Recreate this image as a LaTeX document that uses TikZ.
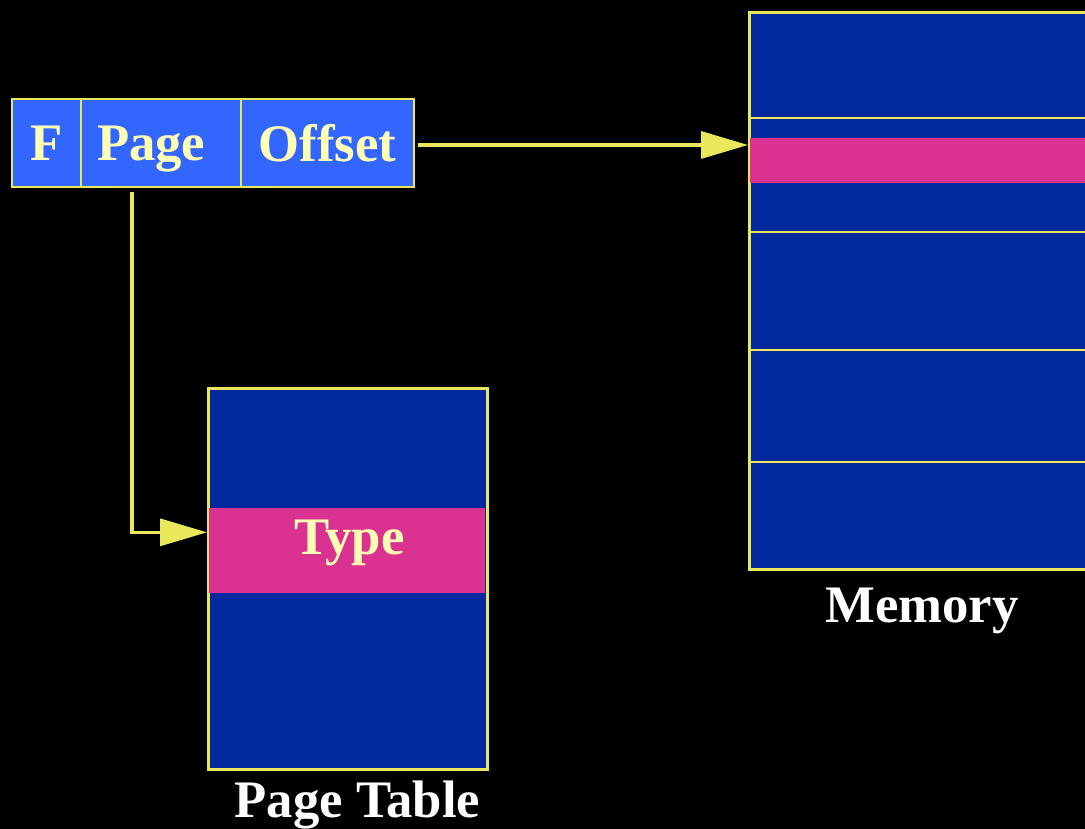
\documentclass[tikz,border=0pt]{standalone}
\usepackage{fontspec}
\setmainfont{Liberation Serif}
\usetikzlibrary{positioning,arrows.meta}
\definecolor{fieldblue}{HTML}{3366FF}
\definecolor{darkblue}{HTML}{0029A0}
\definecolor{hotpink}{HTML}{D93290}
\definecolor{lineyellow}{HTML}{E8E85A}
\definecolor{paleyellow}{HTML}{FFFFB3}
\begin{document}
\begin{tikzpicture}[
  bigtext/.style={font=\fontsize{30}{36}\selectfont\bfseries},
  field/.style={draw=lineyellow, line width=1.5pt, fill=fieldblue, minimum height=1.76cm,
    inner sep=0pt, outer sep=0pt, text=paleyellow, text depth=0pt, bigtext},
  block/.style={draw=lineyellow, line width=1.5pt, fill=darkblue, inner sep=0pt, anchor=north west},
  ptr/.style={draw=lineyellow, line width=1.9pt, -{Triangle[length=0.94cm, width=0.54cm]}},
  caption/.style={text=white, anchor=base, bigtext}]
\fill[black] (0,0) rectangle (21.7,16.58);
\useasboundingbox (0,0) rectangle (21.7,16.58);
% virtual address
\node[field, minimum width=1.38cm, anchor=north west] (flag) at (0.24,14.6) {F};
\node[field, minimum width=3.2cm, text width=2.56cm, align=left, right=0pt of flag] (page) {Page};
\node[field, minimum width=3.46cm, right=0pt of page] (offset) {Offset};
% memory
\node[block, minimum width=6.9cm, minimum height=11.14cm] (mem) at (14.96,16.36) {};
\node[fill=hotpink, inner sep=0pt, minimum width=6.9cm, minimum height=0.9cm,
  anchor=north west] (frame) at (14.99,13.82) {};
\foreach \y in {14.22,11.94,9.58,7.34}
  \draw[lineyellow, line width=1.5pt] (14.96,\y) -- (21.7,\y);
\node[caption] (memlabel) at (18.44,4.12) {Memory};
% page table
\node[block, minimum width=5.58cm, minimum height=7.62cm] (ptab) at (4.14,8.84) {};
\node[fill=hotpink, inner sep=0pt, minimum width=5.52cm, minimum height=1.7cm,
  anchor=north west] (type) at (4.17,6.42) {};
\node[bigtext, text=paleyellow, anchor=base] (typetext) at (6.99,5.48) {Type};
\node[caption] (ptlabel) at (7.15,0.22) {Page Table};
% pointers
\draw[ptr] ([xshift=0.08cm,yshift=-0.04cm]offset.east) -- ([yshift=-0.04cm]offset.east -| mem.west);
\draw[ptr] ([xshift=-0.58cm,yshift=-0.1cm]page.south) |- ([yshift=0.37cm]type.west -| ptab.west);
\end{tikzpicture}
\end{document}
